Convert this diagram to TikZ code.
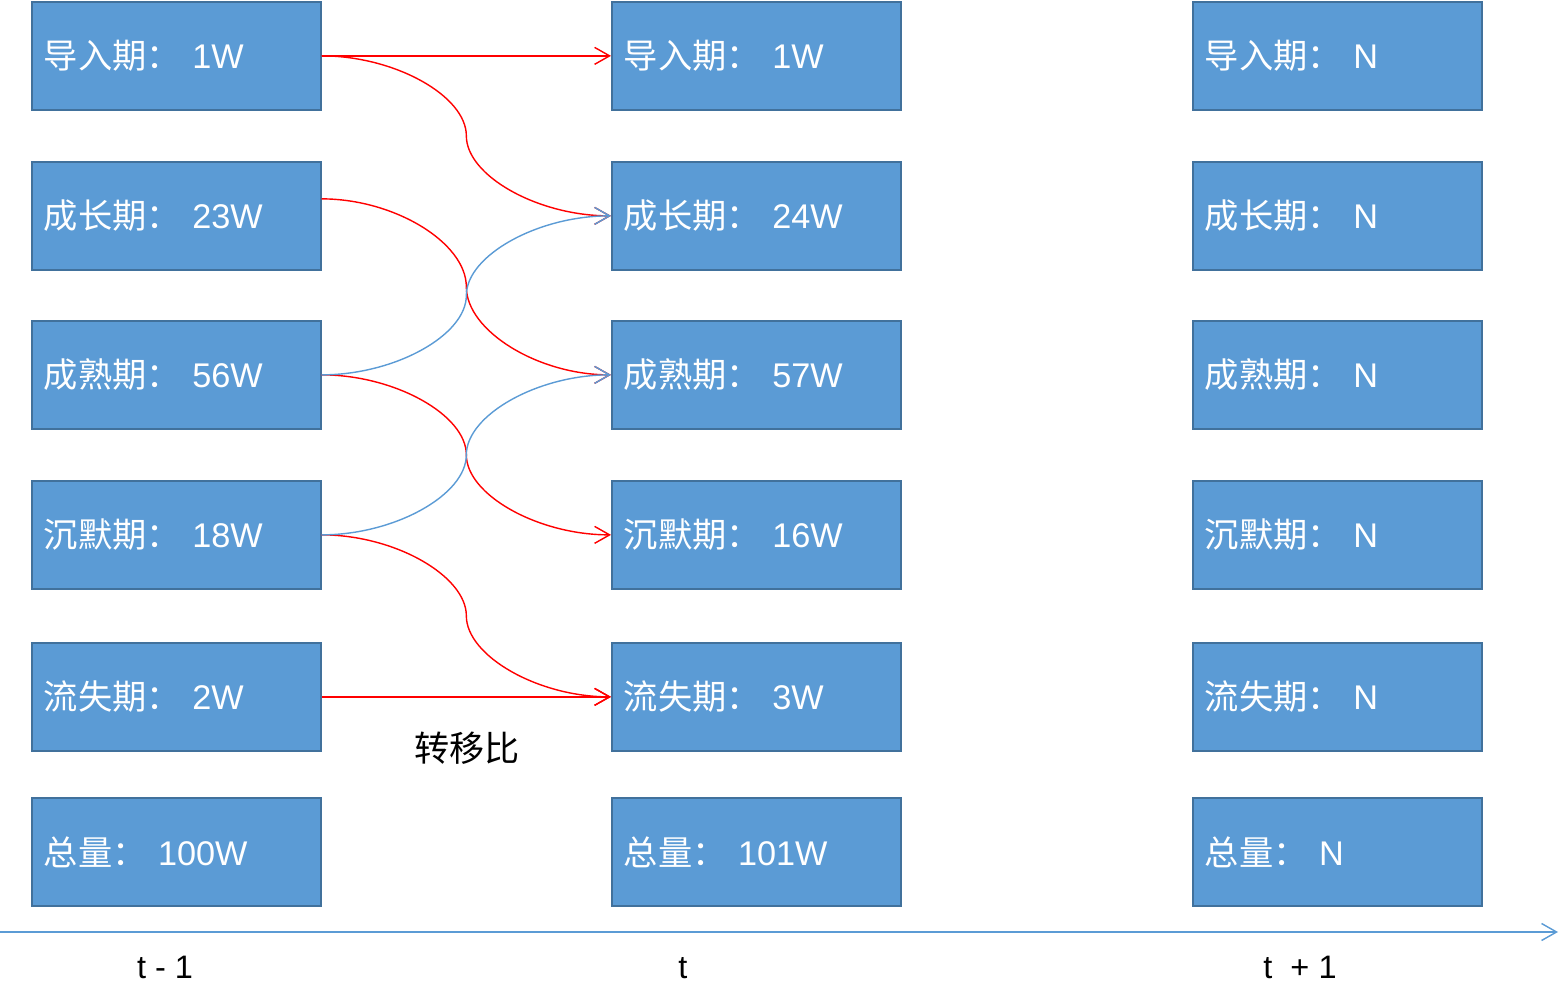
\documentclass[tikz,border=0pt]{standalone}
\usepackage{fontspec}
\setmainfont{Liberation Sans}
\newfontfamily\cjk{Noto Sans CJK SC}
\usetikzlibrary{arrows.meta,calc}
\definecolor{boxblue}{HTML}{5B9BD5}
\definecolor{boxedge}{HTML}{41719C}

\begin{document}
\begin{tikzpicture}[x=0.02cm, y=-0.02cm,
    stage/.style={rectangle, fill=boxblue, draw=boxedge, line width=1pt, anchor=north west,
        minimum width=5.78cm, minimum height=2.16cm, text width=5.3cm, inner xsep=0.24cm,
        align=left, text=white, font=\fontsize{19.5}{23}\selectfont},
    flow/.style={draw=red, line width=0.8pt, -{Straight Barb[length=0.3cm, width=0.34cm]}},
    back/.style={flow, draw=boxblue},
    tick/.style={anchor=base, font=\fontsize{18.5}{22}\selectfont}]
    \useasboundingbox (0,0) rectangle (1560,996);

    % t - 1
    \node [stage] (p1) at (31,1)   {{\cjk 导入期：} 1W};
    \node [stage] (p2) at (31,161) {{\cjk 成长期：} 23W};
    \node [stage] (p3) at (31,320) {{\cjk 成熟期：} 56W};
    \node [stage] (p4) at (31,480) {{\cjk 沉默期：} 18W};
    \node [stage] (p5) at (31,642) {{\cjk 流失期：} 2W};
    \node [stage] (p6) at (31,797) {{\cjk 总量：} 100W};

    % t
    \node [stage] (c1) at (611,1)   {{\cjk 导入期：} 1W};
    \node [stage] (c2) at (611,161) {{\cjk 成长期：} 24W};
    \node [stage] (c3) at (611,320) {{\cjk 成熟期：} 57W};
    \node [stage] (c4) at (611,480) {{\cjk 沉默期：} 16W};
    \node [stage] (c5) at (611,642) {{\cjk 流失期：} 3W};
    \node [stage] (c6) at (611,797) {{\cjk 总量：} 101W};

    % t + 1
    \node [stage] (n1) at (1192,1)   {{\cjk 导入期：} N};
    \node [stage] (n2) at (1192,161) {{\cjk 成长期：} N};
    \node [stage] (n3) at (1192,320) {{\cjk 成熟期：} N};
    \node [stage] (n4) at (1192,480) {{\cjk 沉默期：} N};
    \node [stage] (n5) at (1192,642) {{\cjk 流失期：} N};
    \node [stage] (n6) at (1192,797) {{\cjk 总量：} N};

    \coordinate (p2out) at ([yshift=0.34cm]p2.east);

    \begin{scope}
        \draw [flow] (p1.east) -- (c1.west);
        \draw [flow] (p1.east) .. controls +(73,0) and +(0,-40) .. ($(p1.east)!0.5!(c2.west)$)
            .. controls +(0,40) and +(-73,0) .. (c2.west);
        \draw [flow] (p2out) .. controls +(73,0) and +(0,-44) .. ($(p2out)!0.5!(c3.west)$)
            .. controls +(0,44) and +(-73,0) .. (c3.west);
        \draw [flow] (p3.east) .. controls +(73,0) and +(0,-40) .. ($(p3.east)!0.5!(c4.west)$)
            .. controls +(0,40) and +(-73,0) .. (c4.west);
        \draw [flow] (p4.east) .. controls +(73,0) and +(0,-40) .. ($(p4.east)!0.5!(c5.west)$)
            .. controls +(0,40) and +(-73,0) .. (c5.west);
        \draw [flow] (p5.east) -- (c5.west);
        \draw [back] (p3.east) .. controls +(73,0) and +(0,40) .. ($(p3.east)!0.5!(c2.west)$)
            .. controls +(0,-40) and +(-73,0) .. (c2.west);
        \draw [back] (p4.east) .. controls +(73,0) and +(0,40) .. ($(p4.east)!0.5!(c3.west)$)
            .. controls +(0,-40) and +(-73,0) .. (c3.west);
    \end{scope}

    \node (ratio) at (467,748) {\cjk\fontsize{20}{24}\selectfont 转移比};

    % time axis
    \coordinate (t0) at (0,932);
    \coordinate (t1) at (1558,932);
    \draw [back] (t0) -- (t1);
    \node [tick] (lab1) at (165,978) {t - 1};
    \node [tick] (lab2) at (683,978) {t};
    \node [tick] (lab3) at (1300,978) {t\ \ + 1};
\end{tikzpicture}
\end{document}
